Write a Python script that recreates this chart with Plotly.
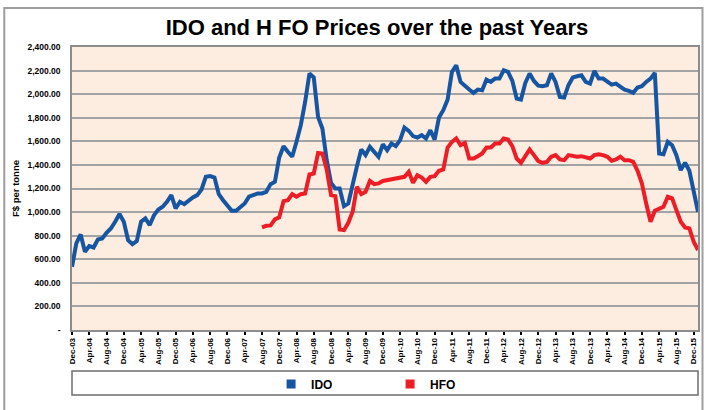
import pandas as pd
import plotly.graph_objects as go

# Monthly categories Dec-03 .. Jan-16
months = [d.strftime("%b-%y") for d in pd.date_range("2003-12-01", "2016-01-01", freq="MS")]

tick_labels = ["Dec-03", "Apr-04", "Aug-04", "Dec-04", "Apr-05", "Aug-05", "Dec-05", "Apr-06",
               "Aug-06", "Dec-06", "Apr-07", "Aug-07", "Dec-07", "Apr-08", "Aug-08", "Dec-08",
               "Apr-09", "Aug-09", "Dec-09", "Apr-10", "Aug-10", "Dec-10", "Apr-11", "Aug-11",
               "Dec-11", "Apr-12", "Aug-12", "Dec-12", "Apr-13", "Aug-13", "Dec-13", "Apr-14",
               "Aug-14", "Dec-14", "Apr-15", "Aug-15", "Dec-15"]

ido = [536, 734, 810, 664, 712, 700, 768, 777, 825, 861, 918, 983, 918, 762, 728, 754, 918, 946, 890, 974,
       1022, 1045, 1087, 1144, 1031, 1087, 1067, 1101, 1124, 1144, 1192, 1299, 1305, 1293, 1152, 1101, 1059,
       1011, 1011, 1045, 1073, 1130, 1144, 1158, 1158, 1172, 1237, 1257, 1463, 1559, 1511, 1469, 1596, 1737,
       1934, 2175, 2141, 1807, 1709, 1440, 1248, 1200, 1200, 1051, 1073, 1243, 1389, 1531, 1483, 1553, 1511,
       1469, 1575, 1525, 1581, 1559, 1610, 1717, 1689, 1644, 1632, 1652, 1624, 1694, 1615, 1802, 1864, 1954,
       2189, 2245, 2104, 2067, 2039, 2011, 2039, 2033, 2124, 2104, 2132, 2132, 2203, 2189, 2112, 1963, 1954,
       2095, 2175, 2112, 2072, 2067, 2076, 2175, 2104, 1977, 1971, 2076, 2141, 2152, 2160, 2104, 2090, 2197,
       2132, 2132, 2104, 2081, 2090, 2067, 2039, 2028, 2011, 2056, 2067, 2104, 2132, 2180, 1497, 1491, 1596,
       1567, 1483, 1356, 1418, 1350, 1186, 1003]

hfo_start = "Aug-07"
hfo = [870, 884, 887, 938, 955, 1093, 1101, 1152, 1130, 1152,
       1158, 1319, 1327, 1502, 1497, 1361, 1144, 1135, 853, 847,
       909, 1003, 1214, 1152, 1172, 1265, 1237, 1243, 1264, 1271,
       1276, 1285, 1285, 1299, 1341, 1248, 1313, 1293, 1257, 1299,
       1305, 1350, 1361, 1548, 1596, 1624, 1567, 1587, 1454, 1454,
       1474, 1497, 1548, 1548, 1581, 1581, 1624, 1615, 1559, 1454,
       1418, 1483, 1531, 1483, 1433, 1418, 1426, 1469, 1483, 1446,
       1440, 1483, 1474, 1469, 1474, 1463, 1454, 1483, 1491, 1483,
       1469, 1435, 1446, 1469, 1440, 1440, 1426, 1350, 1243, 1073,
       918, 1011, 1031, 1045, 1130, 1116, 1017, 918, 870, 861, 748, 678]

y_ticks = [0, 200, 400, 600, 800, 1000, 1200, 1400, 1600, 1800, 2000, 2200, 2400]
y_tick_text = ["-", "200.00", "400.00", "600.00", "800.00", "1,000.00", "1,200.00", "1,400.00",
               "1,600.00", "1,800.00", "2,000.00", "2,200.00", "2,400.00"]

BLUE = "#1655A2"
RED = "#EE1D25"
FONT = "Liberation Sans"

h0 = months.index(hfo_start)
hfo_x = months[h0:h0 + len(hfo)]

fig = go.Figure()
fig.add_trace(go.Scatter(x=months, y=ido, mode="lines", line=dict(color=BLUE, width=4),
                         name="IDO", showlegend=False))
fig.add_trace(go.Scatter(x=hfo_x, y=hfo, mode="lines", line=dict(color=RED, width=4),
                         name="HFO", showlegend=False))
# legend entries with square swatches
fig.add_trace(go.Scatter(x=[None], y=[None], mode="markers", name="IDO",
                         marker=dict(symbol="square", size=9, color=BLUE)))
fig.add_trace(go.Scatter(x=[None], y=[None], mode="markers", name="HFO",
                         marker=dict(symbol="square", size=9, color=RED)))

fig.update_layout(
    width=706, height=410,
    margin=dict(l=72, r=6, t=47, b=80),
    paper_bgcolor="white",
    plot_bgcolor="#FDEDE0",
    font=dict(family=FONT, color="black"),
    title=dict(text="IDO and H FO Prices over the past Years", x=0.534, xanchor="center",
               y=0.934, yanchor="middle",
               font=dict(family=FONT, size=22, weight="bold", color="black")),
    showlegend=True,
    legend=dict(orientation="h", x=0.318, xanchor="left", y=-0.191, yanchor="middle",
                font=dict(family=FONT, size=12, weight="bold", color="black"),
                entrywidth=74, entrywidthmode="pixels", bgcolor="rgba(0,0,0,0)"),
    xaxis=dict(type="category", categoryorder="array", categoryarray=months,
               range=[0, len(months) - 1], tickmode="array", tickvals=tick_labels,
               ticktext=tick_labels, tickangle=-90, ticks="outside", ticklen=3, tickwidth=1.5,
               tickcolor="black", showgrid=False, showline=True, linecolor="#8C8C8C",
               linewidth=1.5, mirror=True, zeroline=False,
               tickfont=dict(family=FONT, size=8, weight="bold", color="black")),
    yaxis=dict(range=[0, 2400], tickmode="array", tickvals=y_ticks, ticktext=y_tick_text,
               showgrid=True, gridcolor="#A3A3A3", gridwidth=1.5, showline=True,
               linecolor="#8C8C8C", linewidth=1.5, mirror=True, zeroline=False,
               ticks="", ticklabelstandoff=8,
               tickfont=dict(family=FONT, size=8.5, weight="bold", color="black"),
               title=dict(text="F$ per tonne", standoff=6,
                          font=dict(family=FONT, size=9.5, weight="bold", color="black"))),
    shapes=[
        dict(type="rect", xref="paper", yref="paper", x0=0, x1=1, y0=-0.2297, y1=-0.1449,
             line=dict(color="#6E6E6E", width=1.5), fillcolor="rgba(0,0,0,0)"),
        dict(type="rect", xref="paper", yref="paper", x0=-0.1082, x1=1.0072, y0=-0.30, y1=1.1378,
             line=dict(color="#9E9E9E", width=2), fillcolor="rgba(0,0,0,0)"),
    ],
)

fig.write_html("out.html", config={"displayModeBar": False},
               post_script="document.body.style.margin='0';")
